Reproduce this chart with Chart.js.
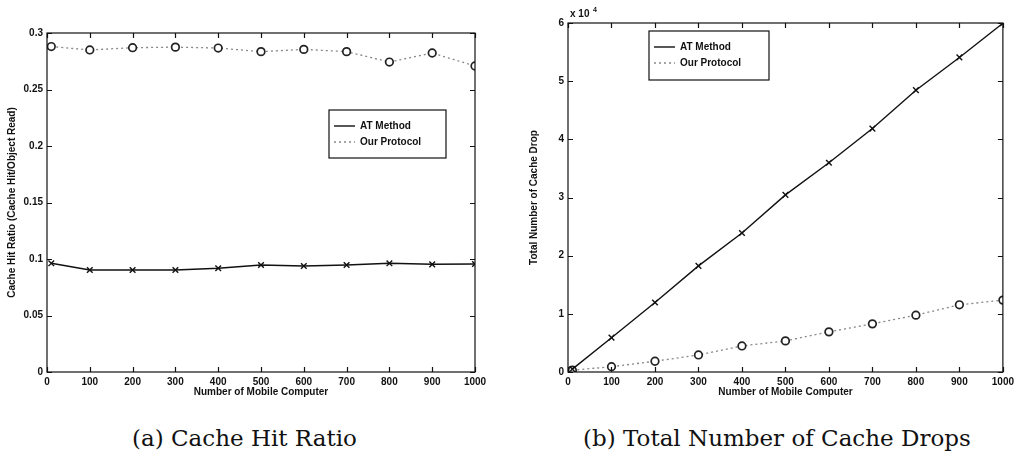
<!DOCTYPE html>
<html>
<head>
<meta charset="utf-8">
<script src="https://cdn.jsdelivr.net/npm/chart.js@4"></script>
<style>
  body { margin: 0; background: #fff; width: 1018px; height: 455px; position: relative; overflow: hidden; }
  .box { position: absolute; top: 0; height: 400px; }
  .cap { position: absolute; top: 427px; line-height: 23px; font-family: "DejaVu Serif", serif; font-size: 23px; color: #111; white-space: nowrap; }
</style>
</head>
<body>
<div class="box" style="left:0;width:500px"><canvas id="hitChart"></canvas></div>
<div class="box" style="left:520px;width:498px"><canvas id="dropChart"></canvas></div>
<div class="cap" style="left:132px">(a) Cache Hit Ratio</div>
<div class="cap" style="left:583px">(b) Total Number of Cache Drops</div>
<script>
// number of mobile computers (x)
const computers = [10, 100, 200, 300, 400, 500, 600, 700, 800, 900, 1000];

// (a) cache hit ratio
const hitAT = [0.0962, 0.0903, 0.0903, 0.0903, 0.0918, 0.0947, 0.0938, 0.0947, 0.0962, 0.0953, 0.0956];
const hitOurs = [0.288, 0.285, 0.287, 0.2875, 0.2867, 0.2835, 0.2855, 0.2835, 0.2743, 0.2823, 0.2708];

// (b) total number of cache drops
const dropAT = [500, 5900, 11950, 18250, 23900, 30450, 35980, 41850, 48450, 54080, 59950];
const dropOurs = [300, 910, 1850, 2930, 4480, 5350, 6900, 8280, 9770, 11550, 12360];

const seriesNames = ["AT Method", "Our Protocol"];

const FONT = "Liberation Sans, Arial, sans-serif";
Chart.defaults.font.family = FONT;
Chart.defaults.color = "#111";

function pts(ys) {
  return computers.map((x, i) => ({ x: x, y: ys[i] }));
}

// matlab-like frame, inward ticks, legend box
const frame = {
  id: "frame",
  afterDraw(chart, args, opts) {
    const ctx = chart.ctx;
    const a = chart.chartArea;
    const x = chart.scales.x, y = chart.scales.y;
    ctx.save();
    ctx.strokeStyle = "#111";
    ctx.lineWidth = 1.2;
    ctx.strokeRect(a.left, a.top, a.width, a.height);
    ctx.beginPath();
    x.ticks.forEach(t => {
      const px = Math.round(x.getPixelForValue(t.value)) + 0.5;
      ctx.moveTo(px, a.bottom); ctx.lineTo(px, a.bottom - 5);
      ctx.moveTo(px, a.top); ctx.lineTo(px, a.top + 5);
    });
    y.ticks.forEach(t => {
      const py = Math.round(y.getPixelForValue(t.value)) + 0.5;
      ctx.moveTo(a.left, py); ctx.lineTo(a.left + 5, py);
      ctx.moveTo(a.right, py); ctx.lineTo(a.right - 5, py);
    });
    ctx.stroke();

    if (opts.exponent) {
      ctx.fillStyle = "#111";
      ctx.font = "bold 10px " + FONT;
      ctx.textBaseline = "alphabetic";
      ctx.fillText("x 10", a.left + 2, a.top - 6);
      ctx.font = "bold 7px " + FONT;
      ctx.fillText("4", a.left + 25, a.top - 11);
    }

    // legend
    const lg = opts.legend;
    ctx.fillStyle = "#fff";
    ctx.fillRect(lg.x, lg.y, lg.w, lg.h);
    ctx.lineWidth = 1.2;
    ctx.strokeStyle = "#111";
    ctx.strokeRect(lg.x, lg.y, lg.w, lg.h);
    chart.data.datasets.forEach((ds, i) => {
      const ly = lg.y + 16 + i * 16;
      ctx.save();
      ctx.strokeStyle = ds.borderColor;
      ctx.lineWidth = ds.borderWidth;
      ctx.setLineDash(ds.borderDash || []);
      ctx.beginPath();
      ctx.moveTo(lg.x + 5, ly);
      ctx.lineTo(lg.x + 26, ly);
      ctx.stroke();
      ctx.restore();
      ctx.fillStyle = "#111";
      ctx.font = "bold 10px " + FONT;
      ctx.textBaseline = "middle";
      ctx.fillText(ds.label, lg.x + 31, ly);
    });
    ctx.restore();
  }
};

function makeChart(id, atData, ourData, yOpts, pad, legend, exponent, yTitle) {
  new Chart(document.getElementById(id), {
    type: "line",
    data: {
      datasets: [
        {
          label: seriesNames[0],
          data: pts(atData),
          borderColor: "#111",
          borderWidth: 1.4,
          pointStyle: "crossRot",
          pointRadius: 4,
          pointBorderColor: "#111",
          pointBorderWidth: 1.4,
          tension: 0
        },
        {
          label: seriesNames[1],
          data: pts(ourData),
          borderColor: "#888",
          borderWidth: 1.3,
          borderDash: [2, 3],
          pointStyle: "circle",
          pointRadius: 3.8,
          pointBorderColor: "#222",
          pointBackgroundColor: "#fff",
          pointBorderWidth: 1.7,
          tension: 0
        }
      ]
    },
    options: {
      responsive: true,
      maintainAspectRatio: false,
      animation: false,
      layout: { padding: pad },
      plugins: {
        legend: { display: false },
        tooltip: { enabled: false },
        frame: { legend: legend, exponent: exponent }
      },
      scales: {
        x: {
          type: "linear",
          min: 0,
          max: 1000,
          grid: { display: false, drawTicks: false, tickLength: 0 },
          border: { display: false },
          ticks: { stepSize: 100, padding: 4, maxRotation: 0, font: { size: 10, weight: "bold" }, color: "#111",
            callback: v => String(v) },
          title: { display: true, text: "Number of Mobile Computer", font: { size: 10, weight: "bold" }, padding: { top: 0, bottom: 2 } },
          afterFit: s => { s.height = 28; }
        },
        y: Object.assign({
          grid: { display: false, drawTicks: false, tickLength: 0 },
          border: { display: false },
          title: { display: true, text: yTitle, font: { size: 10, weight: "bold" }, padding: { top: 0, bottom: 0 } }
        }, yOpts)
      }
    },
    plugins: [frame]
  });
}

makeChart("hitChart", hitAT, hitOurs, {
  min: 0,
  max: 0.3,
  ticks: { stepSize: 0.05, padding: 4, font: { size: 10, weight: "bold" }, color: "#111",
    callback: v => String(Math.round(v * 100) / 100) },
  afterFit: s => { s.width = 41; }
}, { top: 33, right: 25, left: 6, bottom: 0 }, { x: 329, y: 110, w: 117, h: 48 }, false,
"Cache Hit Ratio (Cache Hit/Object Read)");

makeChart("dropChart", dropAT, dropOurs, {
  min: 0,
  max: 60000,
  ticks: { stepSize: 10000, padding: 4, font: { size: 10, weight: "bold" }, color: "#111",
    callback: v => String(Math.round(v / 10000)) },
  afterFit: s => { s.width = 40; }
}, { top: 23, right: 11, left: 8, bottom: 0 }, { x: 129, y: 31, w: 120, h: 49 }, true,
"Total Number of Cache Drop");
</script>
</body>
</html>
